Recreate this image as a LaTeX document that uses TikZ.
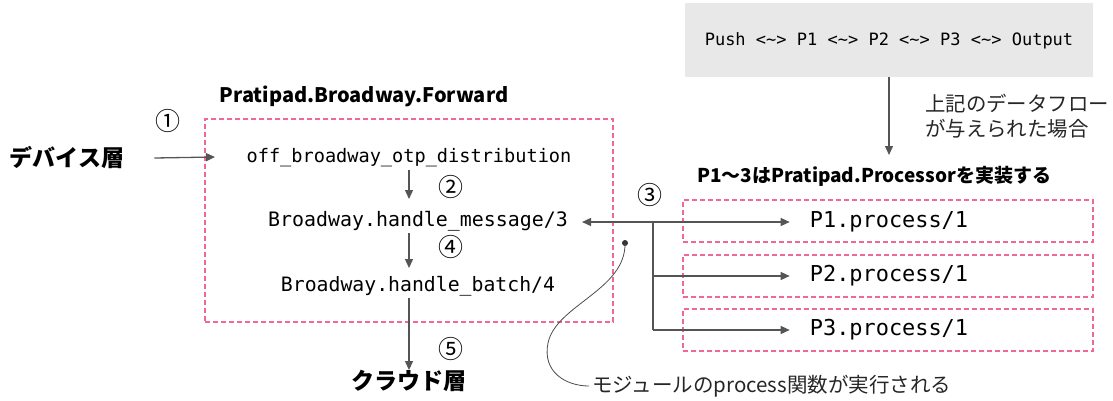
\documentclass[tikz,border=0pt]{standalone}
\usepackage{fontspec}
\setmonofont{DejaVu Sans Mono}
\newfontfamily\jp{Noto Sans CJK JP}
\usetikzlibrary{arrows.meta}
\definecolor{pinkline}{HTML}{F0679A}
\definecolor{arrowgray}{HTML}{555555}
\definecolor{codebg}{HTML}{E8E8E8}
\begin{document}
\begin{tikzpicture}[x=1pt,y=-1pt,
  flow/.style={draw=arrowgray, line width=1.3pt, -{Triangle[length=9pt,width=8pt]}},
  link/.style={draw=arrowgray, line width=1.3pt},
  code/.style={font=\ttfamily\fontsize{#1}{#1}\selectfont, inner sep=1pt, text=black},
  heading/.style={font=\jp\bfseries\fontsize{#1}{#1}\selectfont, inner sep=0pt},
  plain/.style={font=\jp\fontsize{#1}{25}\selectfont, inner sep=0pt, text=black!85},
  num/.style={font=\jp\fontsize{25}{25}\selectfont, inner sep=0pt},
  pinkbox/.style={draw=pinkline, line width=1.1pt, dash pattern=on 5pt off 3pt}
]
\useasboundingbox (0,0) rectangle (1113,400);

% data flow definition
\node[fill=codebg, minimum width=408pt, minimum height=74pt, inner sep=0pt] (flowbox) at (889,40) {};
\node[code=17] (flowtxt) at (889,41) {Push <\textasciitilde> P1 <\textasciitilde> P2 <\textasciitilde> P3 <\textasciitilde> Output};
\coordinate (given) at (889,155);
\draw[flow] (flowbox.south) -- (given);
\node[plain=20.4, anchor=west, align=left] (givennote) at (925,116.5) {上記のデータフロー\\が与えられた場合};

% Forward module
\node[pinkbox, minimum width=408pt, minimum height=203pt, inner sep=0pt] (fwd) at (409,220.5) {};
\node[heading=20] (fwdtitle) at (364,96) {Pratipad.Broadway.Forward};
\node[heading=23] (device) at (67,158) {デバイス層};
\node[code=18.6] (otp) at (409,158) {off\_broadway\_otp\_distribution};
\node[code=19.9] (msg) at (418,221) {Broadway.handle\_message/3};
\node[code=19.8] (batch) at (418,286) {Broadway.handle\_batch/4};
\node[heading=23] (cloud) at (409,381) {クラウド層};

\draw[flow] (device.east) ++(30,0) coordinate (devout) (devout) -- (215,157);
\draw[flow] (409,170) -- (409,199);
\draw[flow] (409,233) -- (409,268);
\draw[flow] (409,298) -- (cloud.north);

\node[num] (n1) at (168,121) {①};
\node[num] (n2) at (451,187) {②};
\node[num] (n3) at (650,195) {③};
\node[num] (n4) at (451,247) {④};
\node[num] (n5) at (451,349) {⑤};

% processors
\node[heading=19] (proctitle) at (874,176) {P1〜3はPratipad.Processorを実装する};
\node[pinkbox, minimum width=410pt, minimum height=42pt, inner sep=0pt] (p1box) at (888,221) {};
\node[pinkbox, minimum width=410pt, minimum height=42pt, inner sep=0pt] (p2box) at (888,276) {};
\node[pinkbox, minimum width=410pt, minimum height=42pt, inner sep=0pt] (p3box) at (888,330) {};
\node[code=21.9] (p1) at (889,222) {P1.process/1};
\node[code=21.9] (p2) at (889,276) {P2.process/1};
\node[code=21.9] (p3) at (889,330) {P3.process/1};

\coordinate (fork) at (653,222);
\draw[flow] (fork) -- (582,222);
\draw[flow] (fork) -- ([xshift=-19pt]p1.west |- fork);
\draw[link] (fork) -- (653,330);
\draw[flow] (653,276) -- ([xshift=-19pt]p2.west);
\draw[flow] (653,330) -- ([xshift=-19pt]p3.west);

% annotation
\node[circle, fill=black!80, inner sep=0pt, minimum size=6pt] (dot) at (625,243) {};
\node[plain=20.5, anchor=west] (note) at (592,386) {モジュールのprocess関数が実行される};
\draw[black!70, line width=0.8pt] (dot.center) .. controls (626,290) and (556,305) .. (548,343)
  .. controls (542,372) and (566,386) .. ([xshift=-3pt]note.west);
\end{tikzpicture}
\end{document}
